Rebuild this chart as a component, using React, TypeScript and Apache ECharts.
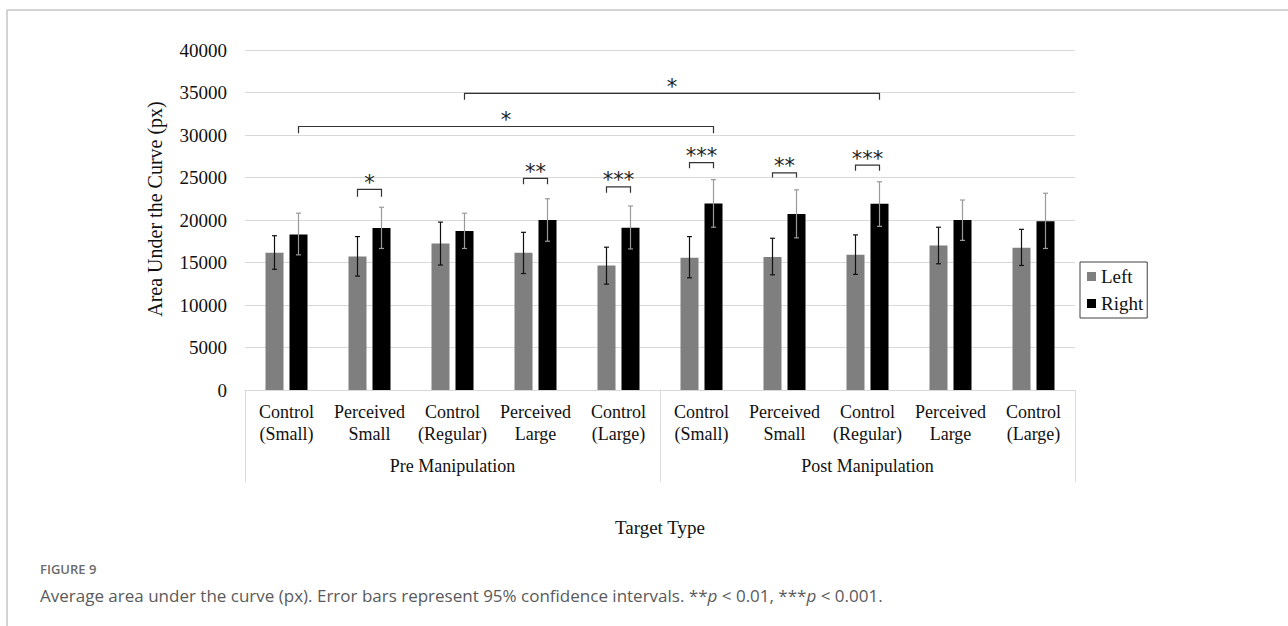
import React, { useEffect, useRef } from "react";
import * as echarts from "echarts";

const categories = [
  "Control\n(Small)", "Perceived\nSmall", "Control\n(Regular)", "Perceived\nLarge", "Control\n(Large)",
  "Control\n(Small)", "Perceived\nSmall", "Control\n(Regular)", "Perceived\nLarge", "Control\n(Large)",
];
const groups = ["Pre Manipulation", "Post Manipulation"];
const seriesNames = ["Left", "Right"];

const leftMeans = [16150, 15700, 17250, 16150, 14650, 15550, 15650, 15900, 17000, 16750];
const leftLow = [14200, 13400, 14700, 13700, 12450, 13200, 13550, 13600, 14850, 14650];
const leftHigh = [18150, 18050, 19750, 18550, 16800, 18050, 17850, 18250, 19150, 18900];
const rightMeans = [18300, 19050, 18700, 20000, 19100, 21950, 20700, 21900, 20000, 19850];
const rightLow = [15900, 16650, 16650, 17500, 16600, 19150, 17900, 19250, 17600, 16650];
const rightHigh = [20800, 21500, 20800, 22500, 21650, 24750, 23550, 24500, 22350, 23150];

const yMin = 0;
const yMax = 40000;
const yInterval = 5000;

// significance brackets: side -1 = Left bar, 1 = Right bar
const bracketStartCat = [0, 2, 1, 3, 4, 5, 6, 7];
const bracketStartSide = [1, 1, -1, -1, -1, -1, -1, -1];
const bracketEndCat = [5, 7, 1, 3, 4, 5, 6, 7];
const bracketEndSide = [1, 1, 1, 1, 1, 1, 1, 1];
const bracketTop = [31000, 34900, 23600, 24900, 23900, 26750, 25550, 26450];
const bracketLeg = [30200, 34150, 22750, 24200, 23200, 26100, 25000, 25800];
const bracketStars = ["*", "*", "*", "**", "***", "***", "**", "***"];

const BAR_W = 18;
const BAR_GAP = 6;
const OFFSET = (BAR_W + BAR_GAP) / 2;
const SERIF = '"Liberation Serif", "Times New Roman", serif';

export default function App() {
  const ref = useRef<HTMLDivElement>(null);
  useEffect(() => {
    if (!ref.current) return;
    const chart = echarts.init(ref.current, null, { renderer: "svg" });

    const errData = (low: number[], high: number[]) => low.map((l, i) => [i, l, high[i]]);
    const errSeries = (side: number, low: number[], high: number[], color: string) => ({
      type: "custom",
      xAxisIndex: 0,
      yAxisIndex: 0,
      z: 5,
      silent: true,
      data: errData(low, high),
      renderItem: (params: any, api: any) => {
        const c = api.value(0);
        const lo = api.coord([c, api.value(1)]);
        const hi = api.coord([c, api.value(2)]);
        const x = lo[0] + side * OFFSET;
        const cap = 2.5;
        const st = { stroke: color, lineWidth: 1.2 };
        return {
          type: "group",
          children: [
            { type: "line", shape: { x1: x, y1: lo[1], x2: x, y2: hi[1] }, style: st },
            { type: "line", shape: { x1: x - cap, y1: lo[1], x2: x + cap, y2: lo[1] }, style: st },
            { type: "line", shape: { x1: x - cap, y1: hi[1], x2: x + cap, y2: hi[1] }, style: st },
          ],
        };
      },
    });

    const bracketData = bracketStartCat.map((s, i) => [s, bracketEndCat[i], bracketTop[i], bracketLeg[i]]);

    const option: any = {
      animation: false,
      backgroundColor: "#ffffff",
      grid: { left: 245, right: 213, top: 50, bottom: 236, containLabel: false },
      legend: {
        data: seriesNames,
        orient: "vertical",
        left: 1080,
        top: 262,
        icon: "rect",
        itemWidth: 9,
        itemHeight: 9,
        itemGap: 8,
        padding: [5, 4, 5, 7],
        borderColor: "#404040",
        borderWidth: 1,
        textStyle: { fontFamily: SERIF, fontSize: 19, color: "#111" },
      },
      xAxis: [
        {
          type: "category",
          data: categories,
          axisLine: { show: true, lineStyle: { color: "#d9d9d9", width: 1 } },
          axisTick: { show: false },
          axisLabel: {
            interval: 0,
            margin: 11,
            fontFamily: SERIF,
            fontSize: 18,
            lineHeight: 22,
            color: "#111",
          },
        },
        {
          type: "category",
          data: groups,
          position: "bottom",
          axisLine: { show: false },
          axisTick: { show: true, length: 92, interval: 0, lineStyle: { color: "#d9d9d9", width: 1 } },
          axisLabel: { interval: 0, margin: 67, fontFamily: SERIF, fontSize: 18, color: "#111" },
          name: "Target Type",
          nameLocation: "middle",
          nameGap: 128,
          nameTextStyle: { fontFamily: SERIF, fontSize: 19, color: "#111" },
        },
      ],
      yAxis: {
        type: "value",
        min: yMin,
        max: yMax,
        interval: yInterval,
        axisLine: { show: false },
        axisTick: { show: false },
        splitLine: { lineStyle: { color: "#d9d9d9", width: 1 } },
        axisLabel: {
          margin: 18,
          fontFamily: SERIF,
          fontSize: 19,
          color: "#111",
          formatter: (v: number) => String(v),
        },
      },
      series: [
        {
          name: "Left",
          type: "bar",
          data: leftMeans,
          barWidth: BAR_W,
          barGap: `${(BAR_GAP / BAR_W) * 100}%`,
          itemStyle: { color: "#7f7f7f" },
        },
        {
          name: "Right",
          type: "bar",
          data: rightMeans,
          barWidth: BAR_W,
          barGap: `${(BAR_GAP / BAR_W) * 100}%`,
          itemStyle: { color: "#000000" },
        },
        errSeries(-1, leftLow, leftHigh, "#111111"),
        errSeries(1, rightLow, rightHigh, "#9a9a9a"),
        {
          type: "custom",
          xAxisIndex: 0,
          yAxisIndex: 0,
          z: 6,
          silent: true,
          clip: false,
          data: bracketData,
          renderItem: (params: any, api: any) => {
            const i = params.dataIndex;
            const sc = api.value(0);
            const ec = api.value(1);
            const top = api.coord([sc, api.value(2)])[1];
            const leg = api.coord([sc, api.value(3)])[1];
            const x1 = api.coord([sc, 0])[0] + bracketStartSide[i] * OFFSET;
            const x2 = api.coord([ec, 0])[0] + bracketEndSide[i] * OFFSET;
            return {
              type: "group",
              children: [
                {
                  type: "polyline",
                  shape: { points: [[x1, leg], [x1, top], [x2, top], [x2, leg]] },
                  style: { stroke: "#333", lineWidth: 1.2, fill: null },
                },
                {
                  type: "text",
                  x: (x1 + x2) / 2,
                  y: top + 4,
                  style: {
                    text: bracketStars[i],
                    align: "center",
                    verticalAlign: "bottom",
                    font: `21px "DejaVu Sans", sans-serif`,
                    fill: "#222",
                  },
                },
              ],
            };
          },
        },
      ],
      graphic: [
        { type: "line", shape: { x1: 7, y1: 10, x2: 1288, y2: 10 }, style: { stroke: "#c4c4c4", lineWidth: 1.5 } },
        { type: "line", shape: { x1: 7, y1: 10, x2: 7, y2: 626 }, style: { stroke: "#c4c4c4", lineWidth: 1.5 } },
        {
          type: "text",
          x: 155,
          y: 209,
          rotation: Math.PI / 2,
          style: {
            text: "Area Under the Curve (px)",
            align: "center",
            verticalAlign: "middle",
            font: `20px ${SERIF}`,
            fill: "#111",
          },
        },
        {
          type: "text",
          x: 40,
          y: 569,
          style: {
            text: "FIGURE 9",
            align: "left",
            verticalAlign: "middle",
            font: `600 13px "Open Sans", sans-serif`,
            fill: "#6b6b6b",
          },
        },
        {
          type: "text",
          x: 40,
          y: 595,
          style: {
            text: "Average area under the curve (px). Error bars represent 95% confidence intervals. **{i|p} < 0.01, ***{i|p} < 0.001.",
            align: "left",
            verticalAlign: "middle",
            font: `17px "Open Sans", sans-serif`,
            fill: "#5a5a5a",
            rich: { i: { fontStyle: "italic", fontFamily: '"Open Sans", sans-serif', fontSize: 17, fill: "#5a5a5a" } },
          },
        },
      ],
    };
    chart.setOption(option);
    return () => chart.dispose();
  }, []);
  return (
    <div
      ref={ref}
      style={{ position: "fixed", left: 0, top: 0, width: 1288, height: 626, background: "#fff" }}
    />
  );
}
